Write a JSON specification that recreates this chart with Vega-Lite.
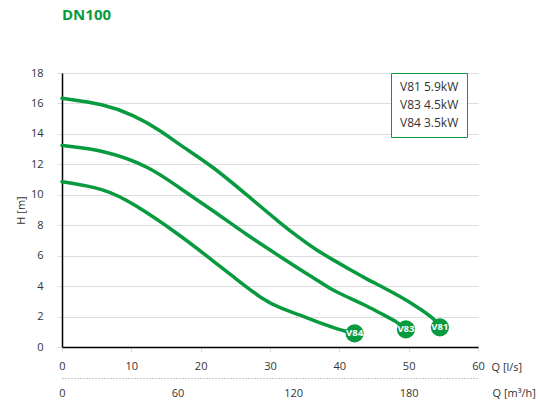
{
  "$schema": "https://vega.github.io/schema/vega-lite/v6.json",
  "autosize": "none",
  "width": 416,
  "height": 274,
  "padding": {"left": 62, "top": 73, "right": 60, "bottom": 56},
  "background": "white",
  "title": {
    "text": "DN100",
    "anchor": "start",
    "frame": "group",
    "font": "Open Sans",
    "fontSize": 15,
    "fontWeight": "bold",
    "color": "#089a3f",
    "offset": 44
  },
  "config": {
    "view": {"stroke": null},
    "font": "Open Sans"
  },
  "datasets": {
    "curves": [
      {"pump": "V81", "label": "V81 5.9kW", "q": 0, "h": 16.34},
      {"pump": "V81", "label": "V81 5.9kW", "q": 6, "h": 15.97},
      {"pump": "V81", "label": "V81 5.9kW", "q": 10.3, "h": 15.24},
      {"pump": "V81", "label": "V81 5.9kW", "q": 14.1, "h": 14.26},
      {"pump": "V81", "label": "V81 5.9kW", "q": 17.0, "h": 13.27},
      {"pump": "V81", "label": "V81 5.9kW", "q": 21.8, "h": 11.85},
      {"pump": "V81", "label": "V81 5.9kW", "q": 26.65, "h": 9.99},
      {"pump": "V81", "label": "V81 5.9kW", "q": 31.5, "h": 8.13},
      {"pump": "V81", "label": "V81 5.9kW", "q": 34.3, "h": 7.14},
      {"pump": "V81", "label": "V81 5.9kW", "q": 36.6, "h": 6.4},
      {"pump": "V81", "label": "V81 5.9kW", "q": 39.1, "h": 5.72},
      {"pump": "V81", "label": "V81 5.9kW", "q": 41.6, "h": 5.06},
      {"pump": "V81", "label": "V81 5.9kW", "q": 44.0, "h": 4.45},
      {"pump": "V81", "label": "V81 5.9kW", "q": 46.4, "h": 3.9},
      {"pump": "V81", "label": "V81 5.9kW", "q": 48.8, "h": 3.31},
      {"pump": "V81", "label": "V81 5.9kW", "q": 51.2, "h": 2.65},
      {"pump": "V81", "label": "V81 5.9kW", "q": 53.6, "h": 1.89},
      {"pump": "V81", "label": "V81 5.9kW", "q": 54.5, "h": 1.4},
      {"pump": "V83", "label": "V83 4.5kW", "q": 0, "h": 13.23},
      {"pump": "V83", "label": "V83 4.5kW", "q": 6, "h": 12.94},
      {"pump": "V83", "label": "V83 4.5kW", "q": 12.7, "h": 11.85},
      {"pump": "V83", "label": "V83 4.5kW", "q": 17.0, "h": 10.42},
      {"pump": "V83", "label": "V83 4.5kW", "q": 21.8, "h": 8.96},
      {"pump": "V83", "label": "V83 4.5kW", "q": 26.65, "h": 7.36},
      {"pump": "V83", "label": "V83 4.5kW", "q": 31.5, "h": 5.93},
      {"pump": "V83", "label": "V83 4.5kW", "q": 34.3, "h": 5.1},
      {"pump": "V83", "label": "V83 4.5kW", "q": 36.6, "h": 4.45},
      {"pump": "V83", "label": "V83 4.5kW", "q": 39.1, "h": 3.7},
      {"pump": "V83", "label": "V83 4.5kW", "q": 41.6, "h": 3.2},
      {"pump": "V83", "label": "V83 4.5kW", "q": 44.0, "h": 2.69},
      {"pump": "V83", "label": "V83 4.5kW", "q": 46.4, "h": 2.1},
      {"pump": "V83", "label": "V83 4.5kW", "q": 48.3, "h": 1.66},
      {"pump": "V83", "label": "V83 4.5kW", "q": 49.6, "h": 1.16},
      {"pump": "V84", "label": "V84 3.5kW", "q": 0, "h": 10.86},
      {"pump": "V84", "label": "V84 3.5kW", "q": 6, "h": 10.43},
      {"pump": "V84", "label": "V84 3.5kW", "q": 10.3, "h": 9.44},
      {"pump": "V84", "label": "V84 3.5kW", "q": 17.0, "h": 7.36},
      {"pump": "V84", "label": "V84 3.5kW", "q": 21.8, "h": 5.65},
      {"pump": "V84", "label": "V84 3.5kW", "q": 24.7, "h": 4.62},
      {"pump": "V84", "label": "V84 3.5kW", "q": 29.0, "h": 3.09},
      {"pump": "V84", "label": "V84 3.5kW", "q": 31.5, "h": 2.56},
      {"pump": "V84", "label": "V84 3.5kW", "q": 34.3, "h": 2.1},
      {"pump": "V84", "label": "V84 3.5kW", "q": 36.75, "h": 1.66},
      {"pump": "V84", "label": "V84 3.5kW", "q": 39.1, "h": 1.29},
      {"pump": "V84", "label": "V84 3.5kW", "q": 40.7, "h": 1.05},
      {"pump": "V84", "label": "V84 3.5kW", "q": 42.2, "h": 0.9}
    ],
    "ends": [
      {"pump": "V81", "q": 54.5, "h": 1.29},
      {"pump": "V83", "q": 49.6, "h": 1.16},
      {"pump": "V84", "q": 42.2, "h": 0.9}
    ],
    "flow": [
      {"qm3h": 0},
      {"qm3h": 216}
    ]
  },
  "layer": [
    {
      "encoding": {
        "x": {
          "field": "q", "type": "quantitative",
          "scale": {"domain": [0, 60], "nice": false},
          "axis": {
            "values": [0, 10, 20, 30, 40, 50, 60],
            "grid": false,
            "domainColor": "#000000",
            "domainWidth": 1.5,
            "tickColor": "#dddddd",
            "tickSize": 5,
            "labelColor": "#333333",
            "labelFontSize": 11,
            "labelPadding": 8,
            "labelFlush": false,
            "title": "Q [l/s]",
            "titleFontSize": 11,
            "titleFontWeight": "normal",
            "titleColor": "#333333",
            "titleAlign": "left",
            "titleBaseline": "middle",
            "titleX": 429,
            "titleY": 20
          }
        },
        "y": {
          "field": "h", "type": "quantitative",
          "scale": {"domain": [0, 18], "nice": false},
          "axis": {
            "values": [0, 2, 4, 6, 8, 10, 12, 14, 16, 18],
            "labelOverlap": false,
            "grid": true,
            "gridColor": "#dddddd",
            "gridWidth": 1,
            "domainColor": "#000000",
            "domainWidth": 1.5,
            "tickColor": "#dddddd",
            "tickSize": 5,
            "labelColor": "#333333",
            "labelFontSize": 11,
            "labelPadding": 14,
            "title": "H [m]",
            "titleFontSize": 11,
            "titleFontWeight": "normal",
            "titleColor": "#333333",
            "titlePadding": 4
          }
        }
      },
      "layer": [
        {
          "data": {"name": "curves"},
          "mark": {"type": "line", "interpolate": "basis", "strokeWidth": 3.5, "strokeCap": "round"},
          "encoding": {
            "color": {
              "field": "label", "type": "nominal",
              "scale": {"domain": ["V81 5.9kW", "V83 4.5kW", "V84 3.5kW"], "range": ["#089a3f", "#089a3f", "#089a3f"]},
              "legend": {
                "orient": "none",
                "legendX": 329,
                "legendY": 0,
                "title": null,
                "symbolSize": 0,
                "symbolOpacity": 0,
                "symbolStrokeWidth": 0,
                "labelOffset": -11,
                "labelFontSize": 12,
                "labelColor": "#333333",
                "rowPadding": 6,
                "padding": 8,
                "strokeColor": "#089a3f",
                "fillColor": "white",
                "cornerRadius": 0
              }
            },
            "detail": {"field": "pump", "type": "nominal"}
          }
        },
        {
          "data": {"name": "ends"},
          "mark": {"type": "circle", "size": 330, "opacity": 1, "color": "#089a3f"}
        },
        {
          "data": {"name": "ends"},
          "mark": {"type": "text", "color": "white", "fontWeight": "bold", "fontSize": 9.5, "font": "Open Sans", "baseline": "middle", "align": "center"},
          "encoding": {
            "text": {"field": "pump", "type": "nominal"}
          }
        }
      ]
    },
    {
      "data": {"name": "flow"},
      "mark": {"type": "point", "opacity": 0},
      "encoding": {
        "x": {
          "field": "qm3h", "type": "quantitative",
          "scale": {"domain": [0, 216], "nice": false},
          "axis": {
            "orient": "bottom",
            "offset": 31,
            "values": [0, 60, 120, 180],
            "grid": false,
            "domainColor": "#888888",
            "domainDash": [1, 2],
            "domainWidth": 1,
            "ticks": false,
            "labelColor": "#333333",
            "labelFontSize": 11,
            "labelPadding": 9,
            "labelFlush": false,
            "title": "Q [m³/h]",
            "titleFontSize": 11,
            "titleFontWeight": "normal",
            "titleColor": "#333333",
            "titleAlign": "left",
            "titleBaseline": "middle",
            "titleX": 430,
            "titleY": 15
          }
        }
      }
    }
  ],
  "resolve": {"scale": {"x": "independent"}, "axis": {"x": "independent"}}
}
